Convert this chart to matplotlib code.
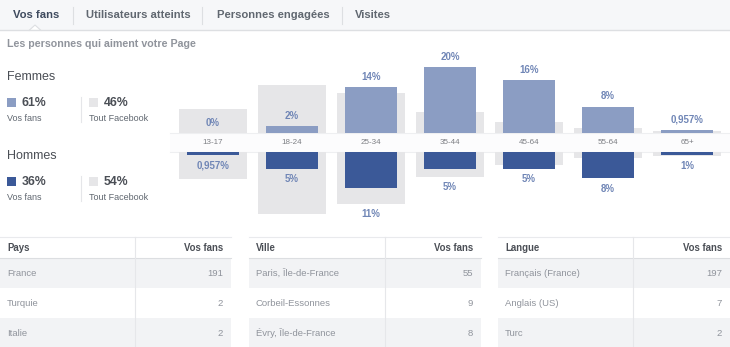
import matplotlib
matplotlib.use("Agg")
import matplotlib.pyplot as plt
from matplotlib.patches import Rectangle, Polygon

plt.rcParams['font.family'] = ['Liberation Sans', 'DejaVu Sans']

# ---- data -------------------------------------------------------------
tabs = ["Vos fans", "Utilisateurs atteints", "Personnes engagées", "Visites"]
age_groups = ["13-17", "18-24", "25-34", "35-44", "45-64", "55-64", "65+"]
women_fans = [0, 2, 14, 20, 16, 8, 0.957]          # % of page fans
men_fans = [0.957, 5, 11, 5, 5, 8, 1]
women_all = [7.3, 14.5, 12.1, 6.4, 3.3, 1.5, 0.6]  # % of all Facebook
men_all = [8.2, 18.8, 15.8, 7.6, 4.0, 1.8, 1.2]
women_total = {"fans": 61, "all": 46}
men_total = {"fans": 36, "all": 54}

countries = ["France", "Turquie", "Italie"]
country_fans = [191, 2, 2]
cities = ["Paris, Île-de-France", "Corbeil-Essonnes", "Évry, Île-de-France"]
city_fans = [55, 9, 8]
languages = ["Français (France)", "Anglais (US)", "Turc"]
language_fans = [197, 7, 2]

# ---- style ------------------------------------------------------------
LIGHT_BLUE = "#8b9dc3"
DARK_BLUE = "#3b5998"
GREY_BAR = "#e6e6e8"
LABEL_BLUE = "#7086b6"
DARK_TEXT = "#4b4f56"
GREY_TEXT = "#90949c"
LINE = "#dddfe2"

W, H = 730, 347
fig = plt.figure(figsize=(W / 100, H / 100), dpi=100)
fig.patch.set_facecolor("white")

# page canvas in pixel coordinates
bg = fig.add_axes([0, 0, 1, 1])
bg.set_xlim(0, W)
bg.set_ylim(H, 0)
bg.axis("off")
bg.set_zorder(0)


def pct(v):
    if float(v).is_integer():
        return f"{int(v)}%"
    return f"{v}".replace(".", ",") + "%"


# ---- tab bar ----------------------------------------------------------
bg.add_patch(Rectangle((0, 0), W, 30, facecolor="#f6f7f9", edgecolor="none"))
bg.plot([0, W], [30, 30], color=LINE, lw=1)
bg.add_patch(Polygon([[29, 30.5], [35, 25], [41, 30.5]], closed=True,
                     facecolor="white", edgecolor=LINE, lw=0.8))
bg.add_patch(Rectangle((29.5, 30), 11, 2, facecolor="white", edgecolor="none"))
tab_x = [13, 86, 217, 355]
sep_x = [73, 202, 342]
for i, (t, x) in enumerate(zip(tabs, tab_x)):
    bg.text(x, 15, t, fontsize=8.1, fontweight="bold",
            color="#3e4a5e" if i == 0 else "#606770", va="center", ha="left")
for x in sep_x:
    bg.plot([x, x], [7, 24], color=LINE, lw=0.8)

bg.text(7, 44, "Les personnes qui aiment votre Page", fontsize=7.7,
        fontweight="bold", color=GREY_TEXT, va="center", ha="left")

# ---- gender summary ---------------------------------------------------
for title, y0, col, tot in [("Femmes", 77, LIGHT_BLUE, women_total),
                            ("Hommes", 156, DARK_BLUE, men_total)]:
    bg.text(7, y0, title, fontsize=9, color=DARK_TEXT, va="center", ha="left")
    bg.add_patch(Rectangle((7, y0 + 21), 9, 9, facecolor=col, edgecolor="none"))
    bg.text(22, y0 + 25.5, f"{tot['fans']}%", fontsize=8.8, fontweight="bold",
            color=DARK_TEXT, va="center", ha="left")
    bg.text(7, y0 + 41, "Vos fans", fontsize=6.5, color="#606770",
            va="center", ha="left")
    bg.plot([81, 81], [y0 + 20, y0 + 45], color="#e5e6e9", lw=0.8)
    bg.add_patch(Rectangle((89, y0 + 21), 9, 9, facecolor=GREY_BAR, edgecolor="none"))
    bg.text(104, y0 + 25.5, f"{tot['all']}%", fontsize=8.8, fontweight="bold",
            color=DARK_TEXT, va="center", ha="left")
    bg.text(89, y0 + 41, "Tout Facebook", fontsize=6.5, color="#606770",
            va="center", ha="left")

# ---- age pyramid ------------------------------------------------------
PX_PER_PCT = 3.3
band_top, band_bot = 133, 152
chart_left, chart_right = 170, W
span_px = 88
x_lo, x_hi = -0.544, 6.544


def fig_box(top_px, bottom_px):
    return [chart_left / W, 1 - bottom_px / H,
            (chart_right - chart_left) / W, (bottom_px - top_px) / H]


ax_w = fig.add_axes(fig_box(band_top - span_px, band_top))
ax_m = fig.add_axes(fig_box(band_bot, band_bot + span_px))
for ax in (ax_w, ax_m):
    ax.set_xlim(x_lo, x_hi)
    ax.set_ylim(0, span_px / PX_PER_PCT)
    ax.axis("off")
    ax.patch.set_alpha(0)
    ax.set_zorder(1)
ax_m.invert_yaxis()

pos = list(range(len(age_groups)))
for ax, fans, allfb, col in [(ax_w, women_fans, women_all, LIGHT_BLUE),
                             (ax_m, men_fans, men_all, DARK_BLUE)]:
    ax.bar(pos, allfb, width=0.85, color=GREY_BAR, edgecolor="none", zorder=1)
    ax.bar(pos, fans, width=0.66, color=col, edgecolor="none", zorder=2)
    for i, (f, a) in enumerate(zip(fans, allfb)):
        anchor = a if 0 < a - f < 6 else f
        ax.text(i, anchor + 3.1, pct(f), fontsize=7, fontweight="bold",
                color=LABEL_BLUE, ha="center", va="center", clip_on=False)

# white strip carrying the age groups
bg.add_patch(Rectangle((chart_left, band_top), chart_right - chart_left,
                       band_bot - band_top, facecolor="#fcfcfd",
                       edgecolor="none", zorder=3))
bg.plot([chart_left, chart_right], [band_top, band_top], color="#eeeff1", lw=0.8, zorder=3)
bg.plot([chart_left, chart_right], [band_bot, band_bot], color="#eeeff1", lw=0.8, zorder=3)
for i, g in enumerate(age_groups):
    ax_w.text(i, -(band_bot - band_top) / 2 / PX_PER_PCT, g, fontsize=5.8,
              color="#7d7f84", ha="center", va="center", clip_on=False, zorder=5)

# ---- tables -----------------------------------------------------------
tables = [("Pays", countries, country_fans, 0, 231, 135),
          ("Ville", cities, city_fans, 249, 481, 385),
          ("Langue", languages, language_fans, 498, 730, 633)]
head_top, head_bot, row_h = 237, 258, 30
for head, names, vals, x0, x1, xs in tables:
    for r in range(len(names)):
        top = head_bot + r * row_h
        if r % 2 == 0:
            bg.add_patch(Rectangle((x0, top), x1 - x0, row_h,
                                   facecolor="#f2f3f5", edgecolor="none"))
        bg.text(x0 + 7, top + row_h / 2, names[r], fontsize=6.8,
                color=GREY_TEXT, va="center", ha="left")
        bg.text(x1 - 8, top + row_h / 2, str(vals[r]), fontsize=6.8,
                color=GREY_TEXT, va="center", ha="right")
    bg.plot([x0, x1], [head_top, head_top], color="#e9eaed", lw=0.8)
    bg.plot([x0, x1], [head_bot, head_bot], color="#dcdee1", lw=0.8)
    bg.plot([xs, xs], [head_top, H], color="#e6e7ea", lw=0.8)
    bg.text(x0 + 7, (head_top + head_bot) / 2, head, fontsize=6.9,
            fontweight="bold", color=DARK_TEXT, va="center", ha="left")
    bg.text(x1 - 8, (head_top + head_bot) / 2, "Vos fans", fontsize=6.9,
            fontweight="bold", color=DARK_TEXT, va="center", ha="right")

fig.savefig("out.png", dpi=100, facecolor="white")
